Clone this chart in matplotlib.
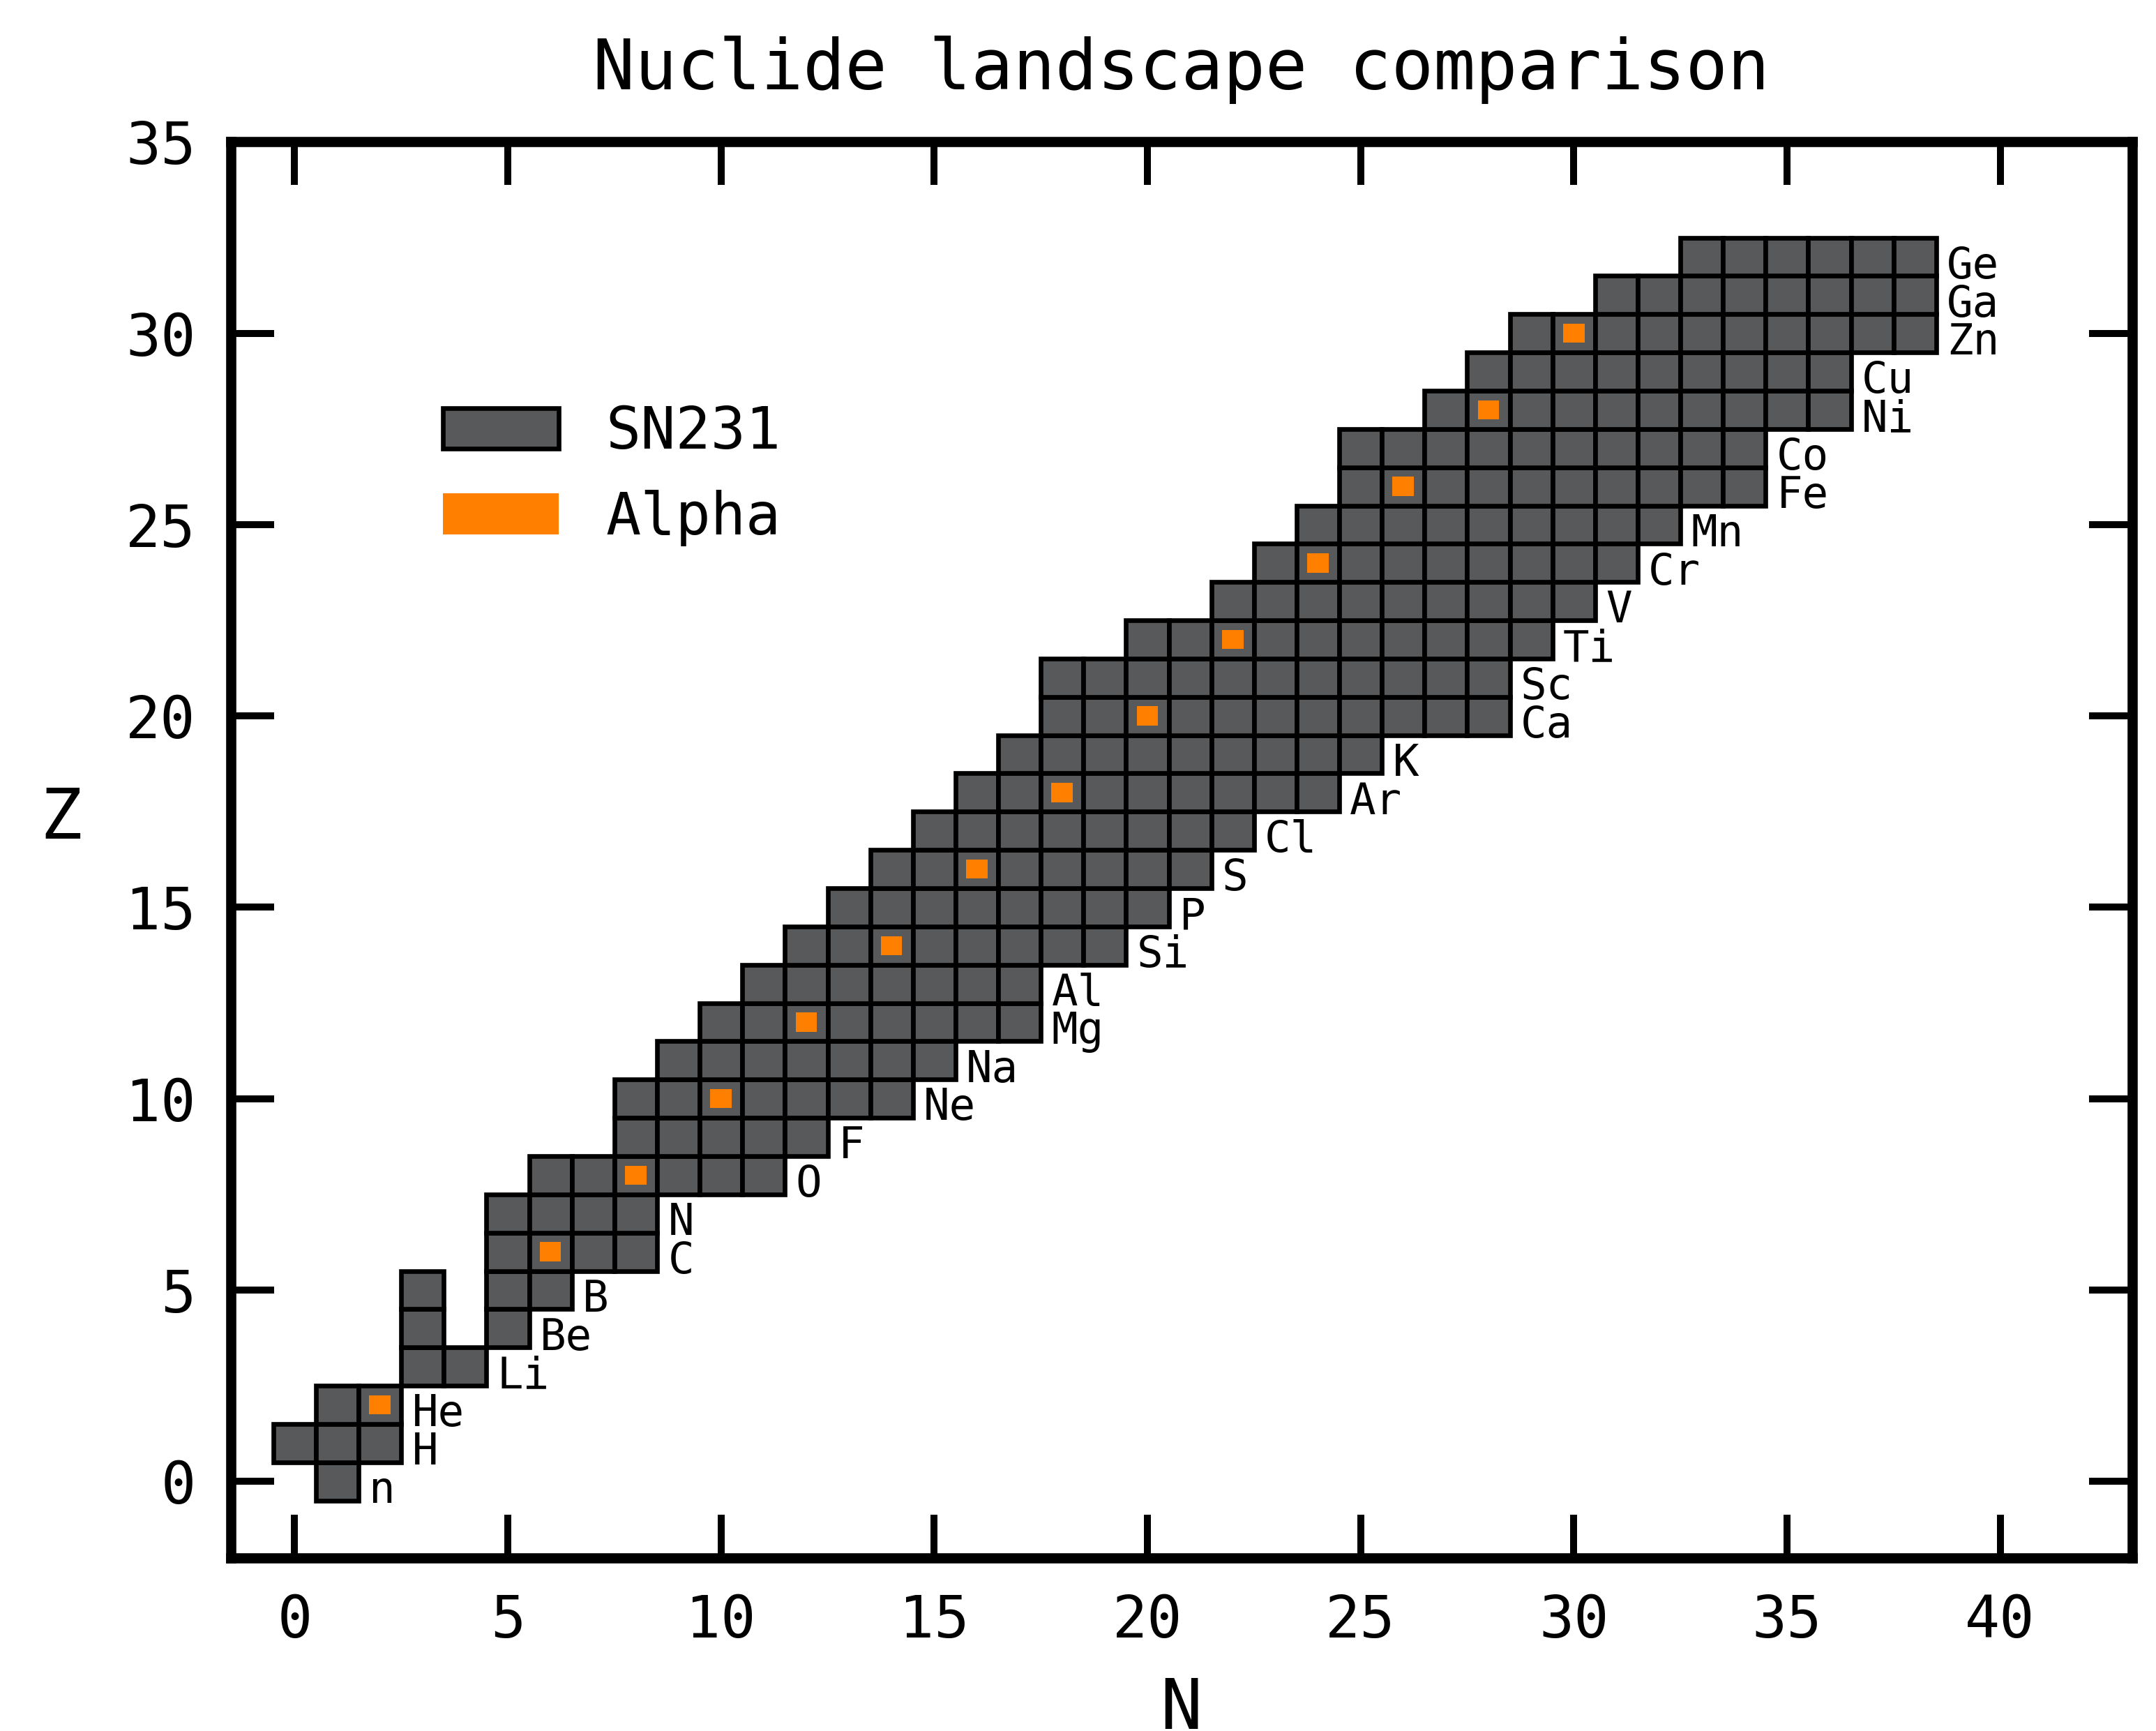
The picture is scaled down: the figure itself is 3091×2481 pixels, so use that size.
import matplotlib
matplotlib.use("Agg")
import matplotlib.pyplot as plt
from matplotlib.patches import Rectangle, Patch

plt.rcParams['font.family'] = ['DejaVu Sans Mono', 'DejaVu Sans']

# ---- data ----
elements = ['n', 'H', 'He', 'Li', 'Be', 'B', 'C', 'N', 'O', 'F', 'Ne', 'Na', 'Mg',
            'Al', 'Si', 'P', 'S', 'Cl', 'Ar', 'K', 'Ca', 'Sc', 'Ti', 'V', 'Cr',
            'Mn', 'Fe', 'Co', 'Ni', 'Cu', 'Zn', 'Ga', 'Ge']
z_values = list(range(33))
n_min = [1, 0, 1, 3, 3, 3, 5, 5, 6, 8, 8, 9, 10, 11, 12, 13, 14, 15, 16, 17, 18,
         18, 20, 22, 23, 24, 25, 25, 27, 28, 29, 31, 33]
n_max = [1, 2, 2, 4, 5, 6, 8, 8, 11, 12, 14, 15, 17, 17, 19, 20, 21, 22, 24, 25, 28,
         28, 29, 30, 31, 32, 34, 34, 36, 36, 38, 38, 38]
# nuclides missing inside the ranges above
gap_n = [4, 4]
gap_z = [4, 5]
# alpha network nuclides
alpha_n = [2, 6, 8, 10, 12, 14, 16, 18, 20, 22, 24, 26, 28, 30]
alpha_z = [2, 6, 8, 10, 12, 14, 16, 18, 20, 22, 24, 26, 28, 30]

cell_color = '#58595b'
alpha_color = '#ff8000'

fig = plt.figure(figsize=(3091 / 300, 2481 / 300), dpi=300)
ax = fig.add_axes([0.107, 0.100, 0.882, 0.818])

gaps = set(zip(gap_n, gap_z))
for z, lo, hi, el in zip(z_values, n_min, n_max, elements):
    for n in range(lo, hi + 1):
        if (n, z) in gaps:
            continue
        ax.add_patch(Rectangle((n - 0.5, z - 0.5), 1, 1, facecolor=cell_color,
                               edgecolor='black', linewidth=1.6, zorder=2))
    ax.text(hi + 0.75, z - 0.25, el, fontsize=15, ha='left', va='center', zorder=4)

for n, z in zip(alpha_n, alpha_z):
    ax.add_patch(Rectangle((n - 0.25, z - 0.25), 0.5, 0.5, facecolor=alpha_color,
                           edgecolor='none', linewidth=0, zorder=3))

ax.set_xlim(-1.5, 43.1)
ax.set_ylim(-2, 35)
ax.set_xticks(range(0, 41, 5))
ax.set_yticks(range(0, 36, 5))
ax.tick_params(direction='in', length=14.8, width=2.4, top=True, right=True,
               labelsize=20, pad=12)
for s in ax.spines.values():
    s.set_linewidth(3.5)

ax.set_xlabel('N', fontsize=24, labelpad=9)
ax.set_ylabel('Z', fontsize=24, rotation=0, ha='center', va='center')
ax.yaxis.set_label_coords(-0.0891, 0.522)
ax.set_title('Nuclide landscape comparison', fontsize=24, pad=18)

handles = [Patch(facecolor=cell_color, edgecolor='black', linewidth=1.6, label='SN231'),
           Patch(facecolor=alpha_color, edgecolor='none', label='Alpha')]
ax.legend(handles=handles, loc='upper left', bbox_to_anchor=(0.1115, 0.815),
          frameon=False, fontsize=20, borderpad=0, borderaxespad=0,
          labelspacing=0.5, handletextpad=0.8)

fig.savefig('out.png', dpi=300)
